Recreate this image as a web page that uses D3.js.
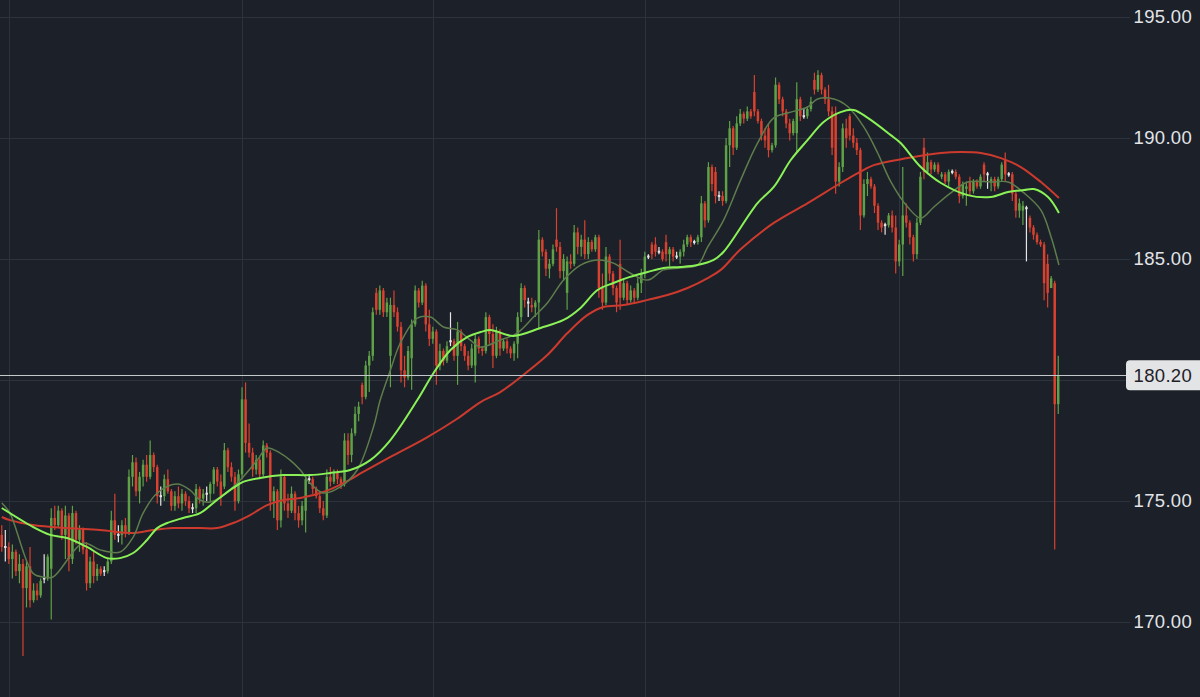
<!DOCTYPE html>
<html>
<head>
<meta charset="utf-8">
<script src="https://cdn.jsdelivr.net/npm/d3@7"></script>
<style>
html,body{margin:0;padding:0;background:#1b2029;}
svg{display:block;}
</style>
</head>
<body>
<svg id="chart" width="1200" height="697"></svg>
<script>
// ---- data ----
const opens = [
173.6,173.1,173.1,172.6,172.9,172.1,172.4,171.4,172.3,170.9,
171.3,171.1,171.8,171.8,172.2,174.3,174.0,174.6,173.6,174.4,
172.6,174.5,173.4,173.8,173.0,171.6,172.5,171.9,172.2,172.1,
172.1,172.5,174.2,173.6,173.6,174.0,173.7,176.0,176.6,175.4,
176.0,176.5,176.0,176.9,176.4,175.2,175.2,175.9,175.4,174.8,
175.2,174.9,175.3,175.0,174.7,174.7,175.5,175.1,175.3,175.3,
175.7,176.3,175.8,175.6,177.1,176.4,176.0,175.0,176.1,179.2,
177.4,177.0,176.3,176.7,176.1,177.3,177.0,175.0,175.4,174.2,
176.0,174.9,174.6,175.3,174.5,174.2,174.6,175.9,175.9,175.5,
175.2,174.7,174.4,176.0,175.8,176.2,175.9,175.7,177.5,176.9,
177.8,178.6,179.8,179.3,180.6,181.0,183.6,182.9,183.7,182.8,
181.0,183.1,182.8,182.2,180.4,180.1,180.9,182.3,183.7,183.2,
183.9,182.3,181.7,182.0,180.6,181.2,180.8,181.6,181.6,181.0,
182.0,181.4,181.0,180.6,180.6,181.7,181.3,181.2,182.6,181.9,
181.0,182.0,181.3,181.6,181.3,181.1,181.5,182.6,183.8,183.2,
183.1,183.0,183.2,185.8,185.3,184.6,184.8,185.8,185.5,184.5,
183.6,184.9,184.8,186.1,185.5,185.8,185.2,185.7,185.4,185.9,
183.8,183.2,185.1,184.4,183.8,184.8,183.4,184.0,183.3,183.7,
183.4,184.0,184.4,185.1,185.6,185.6,185.3,185.3,185.7,185.2,
185.4,185.1,185.1,185.3,185.6,185.9,185.7,185.7,185.9,187.3,
186.6,188.8,188.6,187.6,187.6,187.4,189.7,190.4,189.6,190.6,
191.0,190.8,191.1,191.9,191.1,190.7,190.1,190.4,189.5,189.7,
192.2,191.6,191.1,190.6,190.2,190.2,191.6,190.9,190.9,191.2,
192.4,192.0,192.6,192.0,191.6,191.1,191.0,188.2,188.8,190.4,
190.9,190.1,189.8,189.5,186.8,188.1,188.3,188.0,187.2,186.5,
186.4,186.4,186.8,186.3,184.9,185.6,186.8,186.5,185.9,185.2,
186.5,189.6,188.6,189.0,188.7,188.9,188.4,188.5,188.2,188.6,
188.6,188.4,187.6,187.9,188.2,187.8,188.2,188.0,188.9,188.5,
188.2,188.3,188.0,188.3,189.1,188.5,188.5,187.7,187.0,187.0,
187.1,186.7,186.3,186.0,185.7,185.6,184.8,183.8,184.0,179.0
];
const highs = [
174.0,173.8,173.3,173.2,173.0,172.8,172.6,172.5,173.1,171.6,
171.6,171.8,172.8,172.8,174.7,174.8,174.8,174.7,174.8,174.5,
174.8,174.6,174.0,173.9,173.3,172.7,172.9,172.4,172.3,172.3,
172.6,174.6,175.3,174.0,174.2,174.3,176.3,176.9,176.8,176.2,
176.7,176.9,177.5,177.0,176.5,175.6,176.1,176.3,175.5,175.4,
175.6,175.5,175.4,175.2,174.9,175.7,175.6,175.5,175.6,175.8,
176.4,176.4,176.1,177.4,177.2,176.6,176.2,176.3,179.7,179.9,
178.2,177.2,176.9,176.8,177.5,177.4,177.1,175.6,175.5,176.3,
176.1,175.3,175.6,175.4,174.8,175.0,176.1,176.1,176.0,175.6,
175.4,175.0,176.3,176.4,176.3,176.3,176.0,177.8,177.8,178.0,
178.9,179.1,179.9,180.8,181.2,183.0,183.8,183.9,183.8,183.4,
183.4,183.7,183.0,182.4,181.0,181.4,182.5,183.9,183.8,184.1,
184.0,182.9,182.2,182.1,181.5,181.3,181.6,182.8,181.7,182.4,
182.1,181.5,181.2,181.5,181.9,181.8,181.4,182.8,182.7,182.3,
182.2,182.1,181.7,181.7,181.4,181.6,182.8,184.0,183.9,183.4,
183.4,183.3,186.2,185.9,185.4,185.0,185.6,187.1,185.7,185.2,
185.1,185.2,186.4,186.3,186.0,186.6,185.9,185.8,186.0,186.0,
184.4,185.5,185.2,184.5,183.9,185.8,184.2,184.1,183.9,183.8,
184.2,184.6,185.3,185.2,185.7,185.9,185.5,185.4,186.0,185.5,
185.5,185.3,185.4,185.8,186.0,186.0,185.8,186.0,187.6,187.4,
189.0,188.9,188.8,187.8,187.8,190.0,190.7,190.5,190.9,191.2,
191.1,191.3,191.2,192.6,191.2,190.8,190.4,190.6,189.8,192.5,
192.3,191.7,191.2,190.8,190.8,192.3,191.7,191.2,191.3,191.7,
192.7,192.8,192.7,192.1,192.2,191.3,191.3,189.0,190.6,190.8,
191.0,190.4,190.0,189.6,188.3,188.6,188.4,188.1,187.3,186.6,
186.5,186.9,187.0,186.8,185.8,188.8,187.3,186.6,186.0,186.7,
188.6,190.0,189.4,189.1,189.0,189.0,188.6,188.6,188.7,188.7,
188.7,188.5,188.2,188.2,188.4,188.3,188.3,188.5,189.0,188.6,
188.4,188.4,188.4,189.0,189.4,188.6,188.6,187.8,187.5,187.4,
187.2,186.8,186.4,186.1,185.8,185.7,185.2,184.3,184.1,181.0
];
const lows = [
172.9,172.5,172.4,171.8,171.9,171.6,168.6,170.6,170.6,170.8,
170.9,171.0,171.6,171.7,170.1,173.8,173.9,173.4,172.6,172.1,
172.4,173.2,172.9,172.8,171.3,171.4,171.6,171.7,171.9,171.9,
172.0,172.4,173.4,173.3,173.2,173.5,173.6,175.6,175.2,174.9,
175.6,175.8,175.9,176.2,174.9,174.8,175.0,175.3,174.6,174.6,
174.7,174.6,174.8,174.5,174.5,174.5,174.9,174.8,175.0,175.0,
175.3,175.6,174.8,175.5,176.2,175.8,174.6,174.9,175.9,177.0,
176.8,176.0,176.1,175.9,176.0,176.8,174.6,174.3,173.8,173.9,
174.6,174.3,174.5,174.2,173.9,174.0,173.7,175.7,175.3,175.1,
174.5,174.2,174.3,175.6,175.7,175.7,175.5,175.6,176.5,176.6,
177.7,178.3,179.0,179.2,179.5,180.8,182.7,182.7,182.6,182.6,
179.7,182.6,182.0,179.9,179.7,180.0,179.6,182.2,183.0,183.1,
182.0,181.4,181.5,179.8,180.4,180.6,180.7,181.4,180.8,179.8,
181.2,180.8,180.4,180.5,179.9,181.1,181.0,181.1,181.5,180.5,
180.9,181.0,181.2,181.1,180.9,180.8,180.9,182.4,183.0,182.6,
182.8,182.6,182.1,185.1,184.3,184.2,184.7,185.3,184.2,184.1,
182.9,184.6,184.7,185.2,185.1,185.0,185.0,185.3,185.3,183.4,
182.9,183.1,184.1,183.5,182.8,182.9,183.3,183.1,183.2,183.2,
183.3,183.6,184.2,185.0,185.0,185.1,185.2,184.9,184.9,184.7,
184.9,185.0,184.8,185.1,185.5,185.5,185.6,185.6,185.7,186.3,
186.5,187.8,187.3,187.4,187.2,187.3,188.8,189.3,189.5,190.5,
190.6,190.7,190.8,190.9,190.6,189.9,189.6,189.2,189.4,189.6,
191.4,190.9,190.4,189.9,190.1,189.4,190.7,190.8,190.8,191.1,
191.8,191.9,191.8,191.4,190.9,189.3,187.7,188.0,188.6,189.6,
189.9,189.6,189.3,186.2,186.7,187.6,187.9,186.9,186.2,186.1,
186.0,186.3,186.1,184.4,184.7,184.3,186.3,185.6,184.9,185.0,
186.4,188.3,188.5,188.5,188.6,188.5,188.3,188.1,188.0,188.5,
188.3,187.3,187.5,187.2,187.6,187.7,187.9,187.9,188.2,187.9,
187.8,187.8,187.9,188.2,188.2,188.4,187.4,186.7,186.7,186.4,
184.9,186.1,185.8,185.6,185.5,183.3,183.0,183.8,173.0,178.6
];
const closes = [
173.1,173.1,172.6,172.9,172.1,172.4,171.4,172.3,170.9,171.3,
171.1,171.7,171.8,172.7,174.3,174.0,174.6,173.6,174.4,172.6,
174.5,173.4,173.8,173.0,171.6,172.5,171.9,172.2,172.0,172.1,
172.5,174.2,173.6,173.6,174.0,173.7,176.0,176.6,175.4,176.0,
176.5,176.0,176.9,176.4,175.2,175.2,175.9,175.4,174.8,175.2,
174.9,175.3,175.0,174.7,174.7,175.5,175.1,175.3,175.3,175.7,
176.3,175.8,175.2,177.1,176.4,176.0,175.0,176.1,179.2,177.4,
177.0,176.3,176.7,176.1,177.3,177.0,175.0,175.4,174.2,176.0,
174.9,174.6,175.3,174.5,174.2,174.8,175.9,175.9,175.5,175.2,
174.7,174.4,176.0,175.8,176.2,175.9,175.7,177.5,176.9,177.8,
178.6,178.9,179.3,180.6,181.0,182.8,182.9,183.7,182.8,183.2,
183.1,182.8,182.2,180.4,180.1,181.2,182.3,183.7,183.2,183.9,
182.3,181.7,182.0,180.6,181.2,180.8,181.4,181.6,181.0,182.0,
181.4,181.0,180.6,181.3,181.7,181.3,181.2,182.6,181.9,181.0,
182.0,181.3,181.6,181.3,181.1,181.5,182.6,183.8,183.3,183.2,
183.0,183.2,185.8,185.3,184.6,184.8,185.4,185.5,184.5,185.0,
184.9,184.8,186.1,185.5,185.8,185.2,185.7,185.4,185.9,183.8,
183.2,185.1,184.4,183.8,183.2,183.4,184.0,183.3,183.7,183.4,
184.0,184.4,185.1,185.1,185.2,185.3,185.3,185.0,185.2,185.4,
185.1,185.1,185.3,185.6,185.9,185.7,185.7,185.9,187.3,186.6,
188.8,188.1,187.6,187.6,187.4,189.7,190.4,189.6,190.6,191.0,
190.8,191.1,190.9,191.1,190.7,190.1,189.9,189.5,189.7,192.2,
191.6,191.1,190.6,190.2,190.7,191.6,190.9,190.9,191.2,191.5,
192.0,192.6,192.0,191.6,191.1,189.6,188.2,188.8,190.4,190.0,
190.1,189.8,189.5,186.8,188.1,188.3,188.0,187.2,186.5,186.3,
186.4,186.8,186.3,184.9,185.6,186.8,186.5,185.9,185.2,186.5,
188.4,188.6,189.0,188.7,188.9,188.6,188.5,188.2,188.6,188.6,
188.4,187.6,188.1,188.0,187.8,188.2,188.0,188.4,188.5,188.5,
188.3,188.0,188.3,188.9,188.5,188.5,187.7,187.0,187.3,187.2,
187.1,186.3,186.0,185.7,185.6,184.0,183.6,184.2,179.0,180.2
];

// moving averages, sampled as [candle index, price]
const maFast = [ // dark olive, short period
[0,174.92],[2.3,174.5],[8.8,172.02],[11.7,171.86],[14.5,171.86],[23.0,173.26],[27.8,172.98],
[33.5,172.89],[37.2,173.51],[40.0,174.5],[44.0,175.33],[49.6,175.7],[53.3,175.45],[56.1,175.04],
[59.0,174.96],[62.7,175.25],[67.5,175.87],[72.3,176.69],[75.1,177.19],[78.8,176.98],[81.6,176.69],
[84.5,176.28],[87.5,175.7],[91.0,175.33],[95.8,175.58],[100.6,176.28],[105.2,178.06],[107.1,179.17],
[110.0,180.41],[112.8,181.53],[117.6,182.56],[121.3,182.6],[125.0,182.19],[128.9,182.07],
[132.6,181.65],[135.5,181.36],[141.1,181.65],[145.9,181.94],[150.5,182.6],[154.4,183.18],
[159.0,184.13],[163.8,184.75],[168.6,184.96],[173.1,184.83],[177.8,184.42],[182.8,184.13],
[187.3,184.55],[192.1,184.63],[196.9,184.75],[199.8,185.5],[204.3,186.61],[209.1,188.26],
[213.9,189.79],[218.5,190.83],[223.3,191.07],[228.1,191.28],[230.9,191.61],[235.5,191.61],
[239.4,191.3],[244.0,190.45],[247.9,189.38],[251.6,188.2],[256.4,187.15],[260.1,186.69],
[263.8,187.15],[268.6,187.73],[273.4,188.18],[279.9,188.18],[284.8,188.18],[289.3,187.73],
[294.1,187.02],[297.0,185.9],[299.2,184.75]
];
const maMid = [ // bright green
[0,174.71],[8.8,173.93],[13.7,173.6],[18.5,173.47],[24.1,173.1],[29.8,172.64],[33.5,172.64],
[37.2,172.85],[41.1,173.39],[44.0,173.88],[46.8,174.09],[51.3,174.3],[56.1,174.5],[60.9,175.04],
[65.5,175.54],[68.3,175.79],[73.1,175.95],[79.7,176.07],[87.3,176.07],[93.0,176.16],[98.6,176.28],
[104.3,176.69],[110.0,177.52],[117.6,179.17],[122.2,180.29],[127.0,181.24],[131.8,181.78],
[135.5,181.98],[138.3,182.07],[144.8,181.82],[152.5,182.15],[159.0,182.48],[163.8,182.98],
[168.6,183.72],[173.1,184.01],[177.8,184.26],[182.8,184.46],[187.3,184.63],[192.1,184.67],
[196.9,184.75],[201.5,184.96],[204.3,185.3],[213.9,187.31],[218.5,187.98],[223.3,189.09],
[228.1,189.92],[232.6,190.66],[237.4,191.07],[241.1,191.16],[245.1,190.83],[251.6,190.12],
[254.4,189.79],[260.1,188.8],[265.8,188.14],[273.4,187.64],[279.9,187.56],[284.8,187.77],
[289.3,187.85],[292.1,187.89],[296.1,187.56],[299.2,186.9]
];
const maSlow = [ // red
[0,174.34],[2.3,174.21],[8.8,174.01],[18.5,173.88],[27.8,173.8],[37.2,173.68],[42.8,173.8],
[48.5,173.88],[56.1,173.88],[60.9,173.88],[65.5,174.09],[70.3,174.42],[75.1,174.83],[79.7,175.04],
[84.5,175.12],[91.0,175.37],[96.7,175.74],[102.3,176.2],[110.0,176.82],[120.0,177.6],[128.9,178.4],
[135.5,179.09],[141.1,179.5],[147.6,180.21],[154.4,181.03],[160.1,181.94],[165.8,182.69],
[170.3,183.02],[176.0,183.1],[182.8,183.31],[188.4,183.51],[194.1,183.8],[199.8,184.21],
[203.5,184.55],[209.1,185.4],[218.5,186.49],[228.1,187.31],[237.4,188.14],[242.3,188.55],
[246.8,188.88],[256.4,189.17],[265.8,189.38],[271.4,189.42],[277.1,189.38],[282.8,189.17],
[288.4,188.8],[294.1,188.18],[299.2,187.52]
];

const gridTicks = [170, 175, 180, 185, 190, 195];
const labelTicks = [170, 175, 185, 190, 195];
const sessionStarts = [2, 68, 122, 182, 254];
const lastPrice = 180.20;

// ---- drawing ----
const W = 1200, H = 697;
const N = closes.length;
const svg = d3.select("#chart");

const x = d3.scaleBand().domain(d3.range(N)).range([0, 1060]).paddingInner(0.3).paddingOuter(0.15);
const bw = x.bandwidth();
const xc = d3.scaleLinear().domain([0, N - 1]).range([x(0) + bw / 2, x(N - 1) + bw / 2]);
const y = d3.scaleLinear().domain([170, 195]).range([622, 17]);

const gridColor = "#2d333c";

// horizontal grid
svg.append("g")
  .call(d3.axisRight(y).tickValues(gridTicks).tickSize(1130).tickFormat(""))
  .call(g => g.select(".domain").remove())
  .call(g => g.selectAll("line").attr("stroke", gridColor).attr("stroke-width", 1));

// vertical grid
svg.append("g").selectAll("line").data(sessionStarts).join("line")
  .attr("x1", d => Math.round(xc(d)) + 0.5).attr("x2", d => Math.round(xc(d)) + 0.5)
  .attr("y1", 0).attr("y2", H)
  .attr("stroke", gridColor).attr("stroke-width", 1);

// candles
const UP = "#5ea147", DOWN = "#da412f", FLAT = "#e6e6e6";
const candles = d3.range(N).map(i => ({i, o: opens[i], h: highs[i], l: lows[i], c: closes[i]}));
const col = d => d.c > d.o ? UP : (d.c < d.o ? DOWN : FLAT);
const cg = svg.append("g");
cg.selectAll("line").data(candles).join("line")
  .attr("x1", d => xc(d.i)).attr("x2", d => xc(d.i))
  .attr("y1", d => y(d.h)).attr("y2", d => y(d.l))
  .attr("stroke", col).attr("stroke-width", 1.2);
cg.selectAll("rect").data(candles).join("rect")
  .attr("x", d => x(d.i))
  .attr("width", bw)
  .attr("y", d => y(Math.max(d.o, d.c)) - (d.o === d.c ? 1 : 0))
  .attr("height", d => Math.max(2, Math.abs(y(d.o) - y(d.c))))
  .attr("fill", col);

// moving averages
const line = d3.line().x(d => xc(d[0])).y(d => y(d[1])).curve(d3.curveCatmullRom.alpha(0.5));
svg.append("path").datum(maSlow).attr("d", line)
  .attr("fill", "none").attr("stroke", "#cc3a2e").attr("stroke-width", 2);
svg.append("path").datum(maFast).attr("d", line)
  .attr("fill", "none").attr("stroke", "#5f7d4c").attr("stroke-width", 1.5);
svg.append("path").datum(maMid).attr("d", line)
  .attr("fill", "none").attr("stroke", "#8af257").attr("stroke-width", 2);

// price labels
const labelFont = "'Liberation Sans', Arial, sans-serif";
svg.append("g")
  .attr("transform", "translate(1192,0)")
  .call(d3.axisLeft(y).tickValues(labelTicks).tickSize(0).tickPadding(0).tickFormat(d3.format(".2f")))
  .call(g => g.select(".domain").remove())
  .call(g => g.selectAll("text")
    .attr("fill", "#e2e4e7")
    .style("font-family", labelFont)
    .style("font-size", "18.5px")
    .style("letter-spacing", "0.3px"));

// last price line + tag
const yp = y(lastPrice);
svg.append("line")
  .attr("x1", 0).attr("x2", 1126)
  .attr("y1", Math.round(yp) + 0.5).attr("y2", Math.round(yp) + 0.5)
  .attr("stroke", "#c4c7cc").attr("stroke-width", 1.2);
svg.append("rect")
  .attr("x", 1126).attr("y", yp - 15).attr("width", 78).attr("height", 30)
  .attr("rx", 4).attr("fill", "#e3e4e6");
svg.append("text")
  .attr("x", 1192).attr("y", yp).attr("dy", "0.35em")
  .attr("text-anchor", "end")
  .attr("fill", "#1e2126")
  .style("font-family", labelFont).style("font-size", "18.5px")
  .style("letter-spacing", "0.3px")
  .text(d3.format(".2f")(lastPrice));
</script>
</body>
</html>
